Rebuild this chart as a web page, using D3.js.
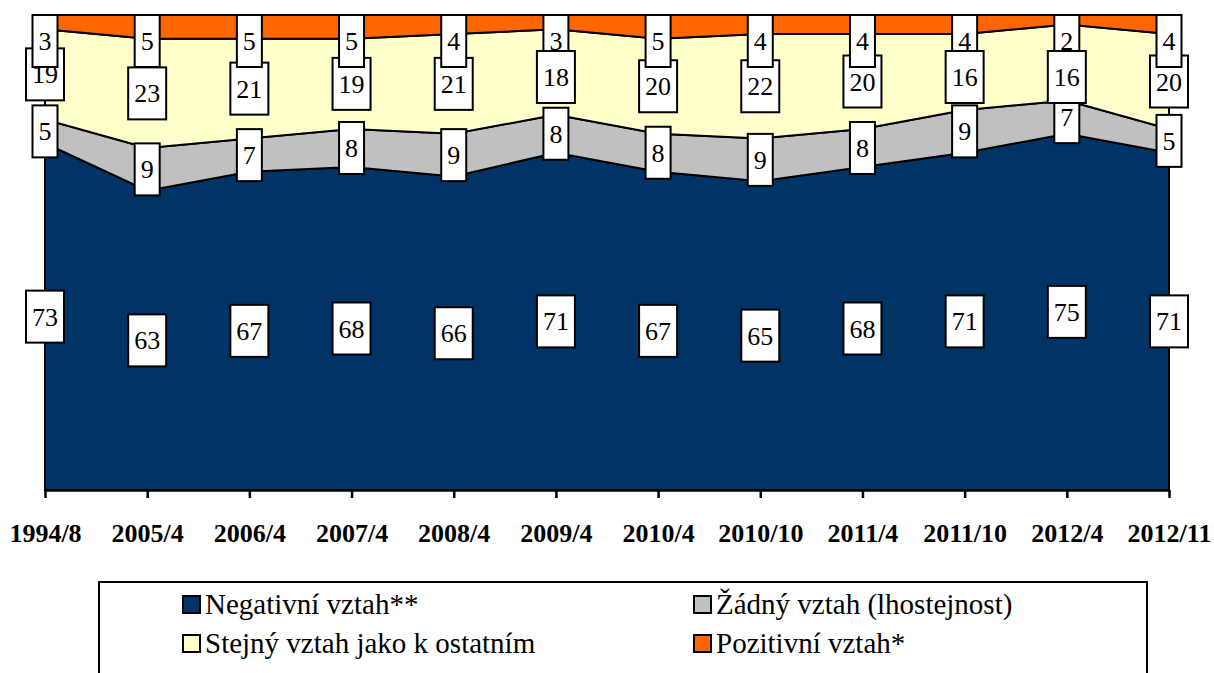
<!DOCTYPE html>
<html><head><meta charset="utf-8">
<script src="https://cdn.jsdelivr.net/npm/d3@7"></script>
<style>
html,body{margin:0;padding:0;background:#fff;}
svg{display:block;}
svg text{font-family:"Liberation Serif","Times New Roman",serif;}
</style>
</head><body>
<svg id="chart" width="1214" height="673"></svg>
<script>
const categories = ["1994/8","2005/4","2006/4","2007/4","2008/4","2009/4","2010/4","2010/10","2011/4","2011/10","2012/4","2012/11"];
const negativni = [73,63,67,68,66,71,67,65,68,71,75,71];
const zadny     = [5,9,7,8,9,8,8,9,8,9,7,5];
const stejny    = [19,23,21,19,21,18,20,22,20,16,16,20];
const pozitivni = [3,5,5,5,4,3,5,4,4,4,2,4];
const seriesNames = ["Negativní vztah**","Žádný vztah (lhostejnost)","Stejný vztah jako k ostatním","Pozitivní vztah*"];
const seriesColors = ["#003366","#C0C0C0","#FFFFCC","#FF6600"];

(function(){
const svg = d3.select("#chart");
const pLeft = 45, pRight = 1169, pTop = 15, pBottom = 490;
const serif = '"Liberation Serif","Times New Roman",serif';

const keys = ["neg","zad","ste","poz"];
const rows = categories.map((c,i)=>({cat:c, neg:negativni[i], zad:zadny[i], ste:stejny[i], poz:pozitivni[i]}));
const stacked = d3.stack().keys(keys)(rows);

const x = d3.scalePoint().domain(categories).range([pLeft,pRight]);
const y = d3.scaleLinear().domain([0,100]).range([pBottom,pTop]);

const area = d3.area()
  .x(d=>x(d.data.cat))
  .y0(d=>y(d[0]))
  .y1(d=>y(d[1]));

svg.append("g").selectAll("path").data(stacked).join("path")
  .attr("d", area)
  .attr("fill",(d,i)=>seriesColors[i])
  .attr("stroke","#000")
  .attr("stroke-width",2)
  .attr("stroke-linejoin","miter");

// x axis
const axis = svg.append("g").attr("transform",`translate(0,${pBottom})`)
  .call(d3.axisBottom(x).tickSize(8).tickSizeOuter(0).tickPadding(26));
axis.attr("font-family",null);
axis.select(".domain").attr("stroke","#000").attr("stroke-width",2.5);
axis.selectAll(".tick line").attr("stroke","#000").attr("stroke-width",2.5);
axis.selectAll(".tick text")
  .style("font-family",serif).style("font-size","26px").style("font-weight","bold").attr("fill","#000");

// data labels: centered in segment, clamped to plot top; a label that
// overlaps the clamped label above too much is pushed down and drawn on top
const boxH = 52, maxOverlap = 16, overlapTrigger = 19;
const labels = [];
stacked.forEach((s,si)=>{
  s.forEach((d,ci)=>{
    const cy = y((d[0]+d[1])/2);
    labels.push({si, ci, v:d[1]-d[0], cx:x(d.data.cat), top:Math.max(pTop, cy-boxH/2), raised:false});
  });
});
labels.forEach(l=>{
  const above = labels.find(o=>o.ci===l.ci && o.si===l.si+1);
  if(above){
    const aboveBottom = above.top + boxH;
    const ov = aboveBottom - l.top;
    if(ov > overlapTrigger){ l.top = aboveBottom - maxOverlap; l.raised = true; }
  }
});
const ordered = labels.filter(l=>!l.raised).concat(labels.filter(l=>l.raised));
const lbl = svg.append("g");
ordered.forEach(l=>{
  const g = lbl.append("g");
  const rect = g.append("rect");
  const t = g.append("text").text(l.v)
    .attr("x",l.cx).attr("y",l.top+boxH/2).attr("dy","0.35em")
    .attr("text-anchor","middle")
    .style("font-family",serif).style("font-size","26px").attr("fill","#000");
  const w = t.node().getComputedTextLength()+12;
  rect.attr("x",l.cx-w/2).attr("y",l.top).attr("width",w).attr("height",boxH)
    .attr("fill","#fff").attr("stroke","#000").attr("stroke-width",2);
});

// legend
const leg = svg.append("g");
leg.append("rect").attr("x",99).attr("y",582).attr("width",1048).attr("height",120)
  .attr("fill","#fff").attr("stroke","#000").attr("stroke-width",2);
const legPos = [[183,596],[694,596],[183,635],[694,635]];
seriesNames.forEach((n,i)=>{
  const [lx,ly] = legPos[i];
  leg.append("rect").attr("x",lx).attr("y",ly).attr("width",17).attr("height",17)
    .attr("fill",seriesColors[i]).attr("stroke","#000").attr("stroke-width",2);
  leg.append("text").attr("x",lx+22).attr("y",ly+18).text(n)
    .style("font-family",serif).style("font-size","29px").attr("fill","#000");
});
})();
</script>
</body></html>
